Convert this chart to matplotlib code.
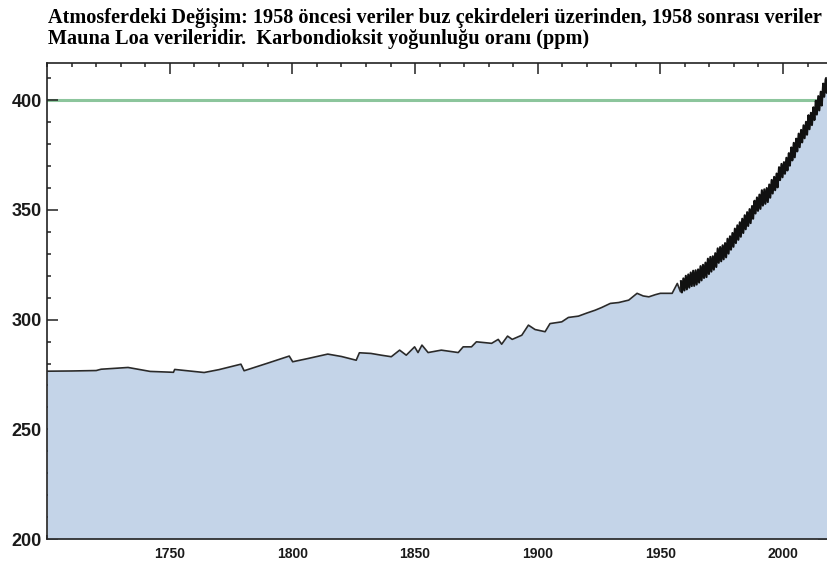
import matplotlib
matplotlib.use("Agg")
import matplotlib.pyplot as plt
from matplotlib.ticker import MultipleLocator
import numpy as np

# buz cekirdegi verileri (1958 oncesi)
ice_years = [1700, 1710, 1720, 1722, 1733, 1742, 1751.5, 1752, 1764, 1770,
             1779, 1780.3, 1790, 1798.7, 1800.1, 1806, 1814.4, 1820, 1826, 1827.3,
             1832, 1836.2, 1840.3, 1843.7, 1846.4, 1849.8, 1851.2, 1852.8, 1855.3, 1860.7,
             1867.6, 1869.6, 1873, 1875, 1881.2, 1883.9, 1885.3, 1887.7, 1889.6, 1893.5,
             1896.2, 1898.9, 1903, 1905, 1909.8, 1912.5, 1916.6, 1920, 1923.4, 1926,
             1929.6, 1933, 1937.1, 1940.5, 1943, 1945.3, 1948, 1950, 1954.8, 1956.9,
             1958.2]
ice_ppm = [276.5, 276.6, 276.8, 277.4, 278.2, 276.4, 276.0, 277.3, 275.9, 277.2,
           279.7, 276.7, 280.2, 283.4, 280.8, 282.2, 284.3, 283.2, 281.5, 284.9,
           284.6, 283.8, 283.1, 286.1, 283.8, 287.6, 285.0, 288.4, 285.0, 286.1,
           285.0, 287.6, 287.6, 289.9, 289.2, 291.0, 288.8, 292.5, 291.0, 292.9,
           297.5, 295.5, 294.5, 298.2, 299.0, 301.0, 301.6, 303.0, 304.3, 305.5,
           307.4, 307.8, 308.9, 312.0, 310.8, 310.4, 311.4, 312.0, 312.0, 316.5,
           312.7]

# Mauna Loa: her yil mayis tepe ve ekim dip degerleri
mlo_years = list(range(1958, 2019))
mlo_peak = [317.5, 318.8, 320.0, 320.6, 321.5, 322.3, 322.5, 322.9, 324.4, 325.0,
            326.0, 327.8, 328.6, 328.9, 330.3, 332.5, 333.1, 333.9, 334.9, 336.9,
            338.0, 339.5, 341.5, 343.0, 344.4, 346.0, 347.6, 349.0, 350.4, 351.8,
            354.2, 355.7, 357.0, 359.0, 359.4, 360.0, 361.6, 363.7, 365.1, 366.6,
            369.5, 371.0, 371.8, 373.8, 375.9, 378.5, 380.6, 382.5, 384.8, 386.5,
            388.6, 390.2, 393.2, 394.3, 396.8, 399.8, 401.9, 403.9, 407.6, 409.7,
            411.2]
mlo_trough = [312.4, 313.3, 313.8, 314.6, 315.3, 315.4, 316.0, 316.9, 317.9, 319.0,
              319.4, 320.8, 321.9, 322.8, 324.0, 325.9, 326.6, 327.5, 328.4, 330.1,
              331.9, 333.2, 334.9, 336.4, 337.8, 339.5, 341.2, 342.7, 344.0, 346.0,
              348.4, 349.6, 350.5, 352.0, 352.8, 353.6, 355.6, 357.5, 359.0, 360.3,
              363.6, 364.9, 366.5, 368.0, 370.2, 372.6, 374.0, 376.7, 378.6, 380.8,
              382.7, 384.3, 386.8, 388.7, 391.0, 393.5, 395.4, 397.6, 401.6, 403.4]

title = ("Atmosferdeki Değişim: 1958 öncesi veriler buz çekirdeleri üzerinden, 1958 sonrası veriler\n"
         "Mauna Loa verileridir.  Karbondioksit yoğunluğu oranı (ppm)")

# zigzag: tepe ve dip sirayla
mx, my = [], []
for i, yr in enumerate(mlo_years):
    mx.append(yr + 0.37)
    my.append(mlo_peak[i])
    if i < len(mlo_trough):
        mx.append(yr + 0.79)
        my.append(mlo_trough[i])

x = np.array(ice_years + mx)
y = np.array(ice_ppm + my)

fig = plt.figure(figsize=(8.27, 5.65), dpi=100)
ax = fig.add_axes([0.057, 0.046, 0.945, 0.8425])

ax.axhline(400, color="#8cc59c", lw=2.2, zorder=1)
ax.fill_between(x, 200, y, color="#c4d4e8", lw=0, zorder=2)
ax.plot(ice_years + mx[:1], ice_ppm + my[:1], color="#2a2a2a", lw=1.2, zorder=3)
ax.plot(mx, my, color="#111111", lw=1.5, zorder=3)

ax.set_xlim(1700, 2018.6)
ax.set_ylim(200, 417)

ax.xaxis.set_major_locator(MultipleLocator(50))
ax.xaxis.set_minor_locator(MultipleLocator(10))
ax.yaxis.set_major_locator(MultipleLocator(50))
ax.yaxis.set_minor_locator(MultipleLocator(10))
ax.tick_params(which="both", direction="in", top=True, right=True, width=1.1, color="#222222")
ax.tick_params(which="major", length=8)
ax.tick_params(which="minor", length=3)
ax.tick_params(axis="y", which="major", pad=4, labelsize=13)
ax.tick_params(axis="x", which="major", pad=6, labelsize=10)
for lab in ax.get_xticklabels() + ax.get_yticklabels():
    lab.set_fontweight("bold")
    lab.set_family("Liberation Sans")
    lab.set_color("#1a1a1a")
ax.set_xticks([1750, 1800, 1850, 1900, 1950, 2000])

for s in ax.spines.values():
    s.set_linewidth(1.2)
    s.set_color("#222222")

fig.text(0.058, 0.985, title, family="Liberation Serif", fontweight="bold",
         fontsize=14.6, va="top", ha="left", linespacing=1.05)

fig.savefig("out.png", dpi=100)
